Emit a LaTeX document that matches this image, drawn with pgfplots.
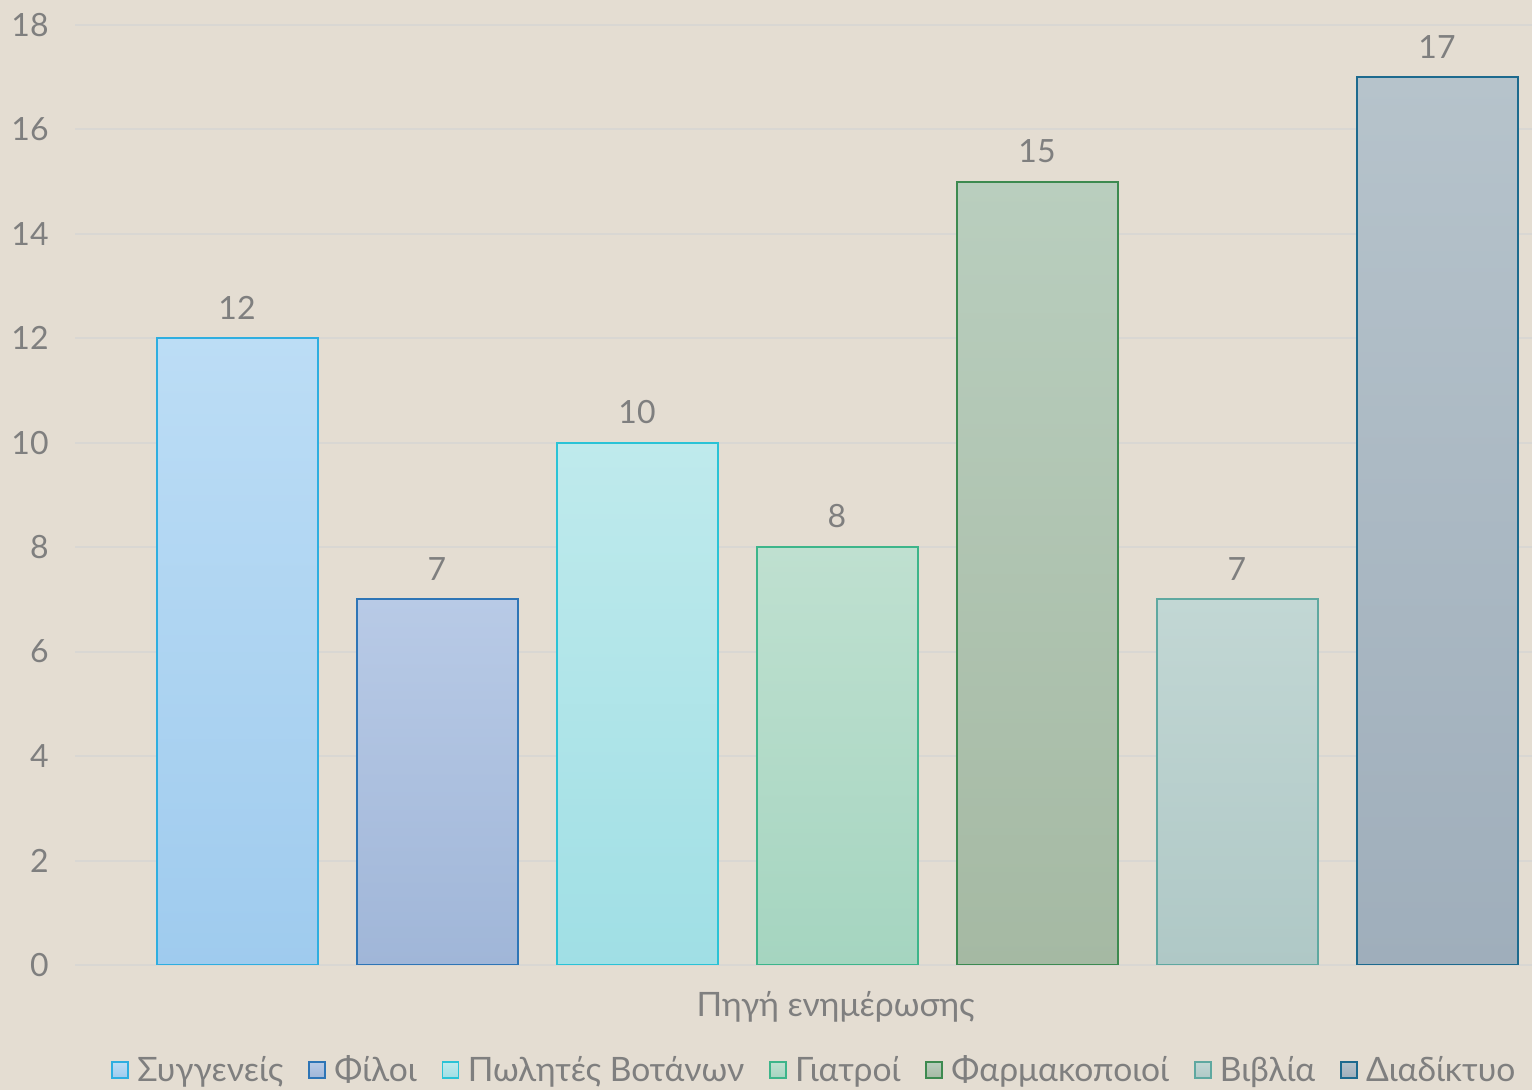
\documentclass[border=0pt]{standalone}
\usepackage{fontspec}
\setmainfont{Lato}
\usepackage{pgfplots}
\pgfplotsset{compat=1.18}
\definecolor{bg}{HTML}{E4DDD2}
\definecolor{gridc}{HTML}{D9D7D3}
\definecolor{txt}{HTML}{7F7F7F}
\definecolor{aT}{HTML}{BCDDF5}\definecolor{aB}{HTML}{9FCBEE}\definecolor{aD}{HTML}{2EAEE0}
\definecolor{bT}{HTML}{B8CAE6}\definecolor{bB}{HTML}{A0B6D8}\definecolor{bD}{HTML}{2E75B6}
\definecolor{cT}{HTML}{BFEAEC}\definecolor{cB}{HTML}{A0DFE5}\definecolor{cD}{HTML}{2AC3D6}
\definecolor{dT}{HTML}{BFE0D0}\definecolor{dB}{HTML}{A5D5C0}\definecolor{dD}{HTML}{3DB58A}
\definecolor{eT}{HTML}{B9CEBE}\definecolor{eB}{HTML}{A5B9A3}\definecolor{eD}{HTML}{3D8A50}
\definecolor{fT}{HTML}{C2D7D4}\definecolor{fB}{HTML}{AFC8C6}\definecolor{fD}{HTML}{5FA8A0}
\definecolor{gT}{HTML}{B6C3CB}\definecolor{gB}{HTML}{9FAEBB}\definecolor{gD}{HTML}{1D6A8E}
\begin{document}
\begin{tikzpicture}[x=1pt,y=1pt]
\fill[bg] (0,0) rectangle (766,545);
\useasboundingbox (0,0) rectangle (766,545);
\begin{axis}[
  at={(37.5pt,62.5pt)}, anchor=south west,
  scale only axis, width=728.5pt, height=470pt,
  xmin=-0.81, xmax=6.475, ymin=0, ymax=18,
  ytick={0,2,...,18}, xtick=\empty,
  ymajorgrids, grid style={color=gridc, line width=1pt},
  axis line style={draw=none},
  major tick length=0pt,
  /pgf/number format/assume math mode=true,
  yticklabel style={text=txt, font=\fontsize{16}{19}\selectfont, inner sep=0pt, xshift=-13pt},
  xlabel={Πηγή ενημέρωσης},
  xlabel style={at={(axis description cs:0.522,0)}, anchor=center, yshift=-21pt, text=txt, font=\fontsize{16.8}{19}\selectfont},
  nodes near coords,
  every node near coord/.append style={text=txt, font=\fontsize{16}{19}\selectfont, inner sep=0pt, anchor=south, yshift=9pt},
  legend columns=-1,
  legend style={at={(0.5081,-0.1117)}, anchor=center, draw=none, fill=none,
    font=\fontsize{16.8}{19}\selectfont, text=txt,
    /tikz/every odd column/.append style={column sep=2.2pt},
    /tikz/every even column/.append style={column sep=10.5pt},
    nodes={inner sep=2pt}},
  legend image code/.code={\draw[#1, line width=0.8pt] (0pt,-4pt) rectangle (8pt,4pt);},
]
\addplot[ybar, bar width=0.805, bar shift=0pt, top color=aT, bottom color=aB, draw=aD, line width=1pt] coordinates {(0,12)};
\addlegendentry{Συγγενείς}
\addplot[ybar, bar width=0.805, bar shift=0pt, top color=bT, bottom color=bB, draw=bD, line width=1pt] coordinates {(1,7)};
\addlegendentry{Φίλοι}
\addplot[ybar, bar width=0.805, bar shift=0pt, top color=cT, bottom color=cB, draw=cD, line width=1pt] coordinates {(2,10)};
\addlegendentry{Πωλητές Βοτάνων}
\addplot[ybar, bar width=0.805, bar shift=0pt, top color=dT, bottom color=dB, draw=dD, line width=1pt] coordinates {(3,8)};
\addlegendentry{Γιατροί}
\addplot[ybar, bar width=0.805, bar shift=0pt, top color=eT, bottom color=eB, draw=eD, line width=1pt] coordinates {(4,15)};
\addlegendentry{Φαρμακοποιοί}
\addplot[ybar, bar width=0.805, bar shift=0pt, top color=fT, bottom color=fB, draw=fD, line width=1pt] coordinates {(5,7)};
\addlegendentry{Βιβλία}
\addplot[ybar, bar width=0.805, bar shift=0pt, top color=gT, bottom color=gB, draw=gD, line width=1pt] coordinates {(6,17)};
\addlegendentry{Διαδίκτυο}
\end{axis}
\end{tikzpicture}
\end{document}
